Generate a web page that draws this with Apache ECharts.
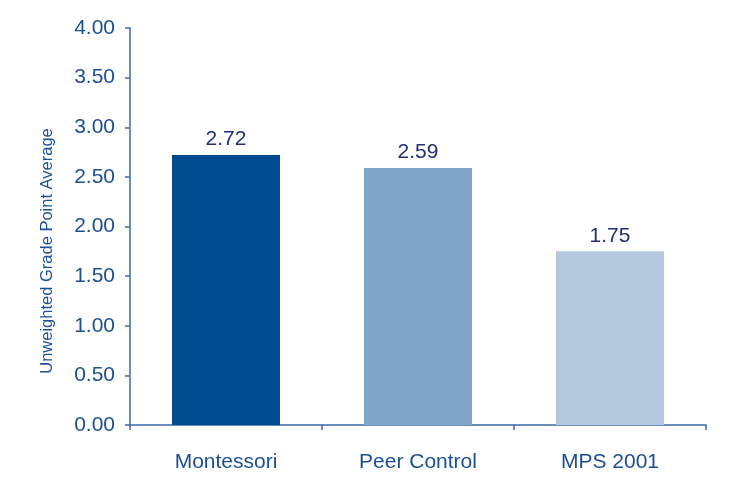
<!DOCTYPE html>
<html><head><meta charset="utf-8">
<script src="https://cdn.jsdelivr.net/npm/echarts@6/dist/echarts.min.js"></script>
<style>html,body{margin:0;padding:0;background:#fff}#c{width:735px;height:481px}</style>
</head><body><div id="c"></div>
<script>
const categories = ["Montessori", "Peer Control", "MPS 2001"];
const values = [2.72, 2.59, 1.75];
const barColors = ["#004a8f", "#81a5c8", "#b4c9de"];
const yTitle = "Unweighted Grade Point Average";

const chart = echarts.init(document.getElementById('c'));
chart.setOption({
  backgroundColor: '#fff',
  animation: false,
  grid: { left: 130, right: 29, top: 28, bottom: 56 },
  graphic: [{
    type: 'text',
    rotation: Math.PI / 2,
    style: { text: yTitle, fill: '#1b5196', font: '16.5px "Liberation Sans", Arial', textAlign: 'center', textVerticalAlign: 'middle' },
    x: 47, y: 251
  }],
  xAxis: {
    type: 'category', data: categories,
    axisLine: { lineStyle: { color: '#3a6aa6', width: 1.5 } },
    axisTick: { show: true, length: 5, lineStyle: { color: '#3a6aa6', width: 1.5 } },
    axisLabel: { color: '#1b4f94', fontSize: 21, fontFamily: 'Liberation Sans', margin: 27 }
  },
  yAxis: {
    type: 'value', min: 0, max: 4, interval: 0.5,
    splitLine: { show: false },
    axisLine: { show: true, lineStyle: { color: '#3a6aa6', width: 1.5 } },
    axisTick: { show: true, length: 5, lineStyle: { color: '#3a6aa6', width: 1.5 } },
    axisLabel: { color: '#1b4f94', fontSize: 21, fontFamily: 'Liberation Sans', margin: 15, formatter: v => v.toFixed(2) }
  },
  series: [{
    type: 'bar',
    data: values.map((v, i) => ({ value: v, itemStyle: { color: barColors[i] } })),
    barWidth: 108,
    label: { show: true, position: 'top', distance: 5, color: '#1f2f78', fontSize: 21, fontFamily: 'Liberation Sans', formatter: p => p.value.toFixed(2) }
  }]
});
</script></body></html>
